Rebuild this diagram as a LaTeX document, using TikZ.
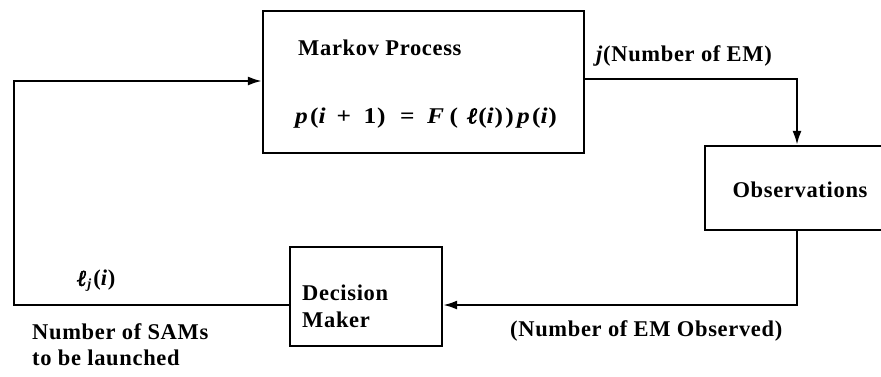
\documentclass[tikz,border=0pt]{standalone}
\usepackage{fontspec}
\setmainfont{Liberation Serif}[LetterSpace=3]
\newfontfamily\ellfont{Liberation Serif}[FakeBold=3,FakeSlant=0.15]
\usetikzlibrary{arrows.meta}
\newcommand{\bell}{{\ellfont\mdseries\upshape ℓ}}
\newcommand{\hs}[1]{\hspace{#1pt}}
\begin{document}
\begin{tikzpicture}[x=1pt,y=-1pt,
  box/.style={draw,line width=2.2pt,rectangle,inner sep=0pt},
  lbl/.style={font=\fontsize{22.5}{25}\selectfont\bfseries,inner sep=0pt},
  wire/.style={line width=2.2pt},
  arr/.style={wire,-{Latex[length=14pt,width=9pt]}}]
\clip (0,0) rectangle (881,376);
\useasboundingbox (0,0) rectangle (881,376);
% boxes
\node[box,minimum width=321pt,minimum height=142pt] (markov) at (423.5,82) {};
\node[box,minimum width=200pt,minimum height=84pt] (obs) at (805,188) {};
\node[box,minimum width=152pt,minimum height=99pt] (dm) at (366,296.5) {};
% box texts
\node[lbl,anchor=west] (mt) at (298,48) {Markov Process};
\node[lbl,anchor=west] (mf) at (295,118) {\scalebox{1.13}[1]{\itshape p\hs{2}\upshape(\itshape i\/\upshape\hs{9}+\hs{11}1)\hs{13}=\hs{11}\itshape F\hs{5}\upshape(\hs{6}\bell\hs{1}\upshape(\itshape i\/\upshape)\hs{2})\hs{3}\itshape p\hs{2}\upshape(\itshape i\/\upshape)}};
\node[lbl] (ot) at (800,190) {Observations};
\node[lbl,anchor=west,align=left] (dt) at (302,306) {Decision\\[2pt]Maker};
% connector coordinates
\coordinate (c1) at (797,79);
\coordinate (c2) at (797,305);
\coordinate (c3) at (14,305);
\coordinate (c4) at (14,81);
% connectors
\draw[arr] (markov.east |- c1) -- (c1) -- (c1 |- obs.north);
\draw[arr] (c1 |- obs.south) -- (c2) -- (c2 -| dm.east);
\draw[arr] (dm.west |- c3) -- (c3) -- (c4) -- (c4 -| markov.west);
% connector labels
\node[lbl,anchor=west] (l1) at (596,56) {\itshape j\/\upshape(Number of EM)};
\node[lbl,anchor=west] (l2) at (75,281) {\bell\hs{1.5}\raisebox{-3pt}{\fontsize{14}{14}\selectfont\itshape j}\hs{2}\upshape(\itshape i\/\upshape)};
\node[lbl,anchor=west,align=left] (l3) at (32,345) {Number of SAMs\\[1pt]to be launched};
\node[lbl,anchor=west] (l4) at (510,331) {(Number of EM Observed)};
\end{tikzpicture}
\end{document}
